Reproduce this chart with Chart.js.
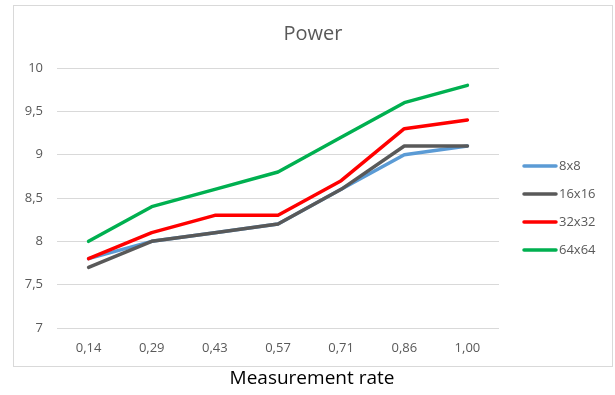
<!DOCTYPE html>
<html>
<head>
<meta charset="utf-8">
<title>Power</title>
<script src="https://cdn.jsdelivr.net/npm/chart.js@4.4.1/dist/chart.umd.min.js"></script>
<style>
  html, body { margin: 0; padding: 0; background: #ffffff; }
  #chart { display: block; }
</style>
</head>
<body>
<canvas id="chart" width="615" height="395"></canvas>
<script>
// Measurement rates along the x axis
const categories = ['0,14', '0,29', '0,43', '0,57', '0,71', '0,86', '1,00'];

// Power per block size
const power8x8   = [7.8, 8.0, 8.1, 8.2, 8.6, 9.0, 9.1];
const power16x16 = [7.7, 8.0, 8.1, 8.2, 8.6, 9.1, 9.1];
const power32x32 = [7.8, 8.1, 8.3, 8.3, 8.7, 9.3, 9.4];
const power64x64 = [8.0, 8.4, 8.6, 8.8, 9.2, 9.6, 9.8];

const seriesNames = ['8x8', '16x16', '32x32', '64x64'];
const seriesColors = ['#5B9BD5', '#595959', '#FF0000', '#00B050'];

const chartTitle = 'Power';
const xAxisTitle = 'Measurement rate';

const FONT = "'Open Sans', 'Noto Sans', sans-serif";
const GREY_TEXT = '#595959';

// Frame, titles and right-hand legend
const decorations = {
  id: 'decorations',
  beforeDraw(chart) {
    const ctx = chart.ctx;
    ctx.save();
    ctx.fillStyle = '#ffffff';
    ctx.fillRect(0, 0, chart.width, chart.height);
    ctx.strokeStyle = '#d9d9d9';
    ctx.lineWidth = 1;
    ctx.strokeRect(13.5, 5.5, 599, 361);
    ctx.restore();
  },
  afterDraw(chart) {
    const ctx = chart.ctx;
    ctx.save();
    ctx.textAlign = 'center';
    ctx.textBaseline = 'middle';

    ctx.fillStyle = GREY_TEXT;
    ctx.font = '20px ' + FONT;
    ctx.fillText(chartTitle, 313, 34);

    ctx.fillStyle = '#000000';
    ctx.font = '19px ' + FONT;
    ctx.fillText(xAxisTitle, 312, 379);

    ctx.font = '13px ' + FONT;
    ctx.textAlign = 'left';
    chart.data.datasets.forEach((ds, i) => {
      const y = 166 + i * 28;
      ctx.strokeStyle = ds.borderColor;
      ctx.lineWidth = 3.5;
      ctx.lineCap = 'round';
      ctx.beginPath();
      ctx.moveTo(524, y);
      ctx.lineTo(556, y);
      ctx.stroke();
      ctx.fillStyle = GREY_TEXT;
      ctx.fillText(ds.label, 559, y);
    });
    ctx.restore();
  }
};

const seriesValues = [power8x8, power16x16, power32x32, power64x64];

new Chart(document.getElementById('chart'), {
  type: 'line',
  data: {
    labels: categories,
    datasets: seriesValues.map((values, i) => ({
      label: seriesNames[i],
      data: values,
      borderColor: seriesColors[i],
      backgroundColor: seriesColors[i],
      borderWidth: 3.5,
      borderJoinStyle: 'round',
      borderCapStyle: 'round',
      pointRadius: 0,
      pointHoverRadius: 0,
      tension: 0,
      fill: false,
      order: seriesValues.length - i
    }))
  },
  options: {
    responsive: false,
    animation: false,
    devicePixelRatio: 1,
    layout: { padding: { left: 13, right: 116, top: 68, bottom: 0 } },
    plugins: {
      legend: { display: false },
      title: { display: false },
      tooltip: { enabled: false }
    },
    scales: {
      x: {
        offset: true,
        grid: { display: false },
        border: { display: false },
        ticks: { color: GREY_TEXT, font: { family: FONT, size: 13 }, padding: 4, maxRotation: 0 },
        afterFit(scale) { scale.height = 67; }
      },
      y: {
        min: 7,
        max: 10,
        grid: { color: '#d9d9d9', lineWidth: 1, drawTicks: false },
        border: { display: false },
        ticks: {
          stepSize: 0.5,
          color: GREY_TEXT,
          font: { family: FONT, size: 13 },
          padding: 14,
          callback: (v) => String(v).replace('.', ',')
        },
        afterFit(scale) { scale.width = 44; }
      }
    }
  },
  plugins: [decorations]
});
</script>
</body>
</html>
